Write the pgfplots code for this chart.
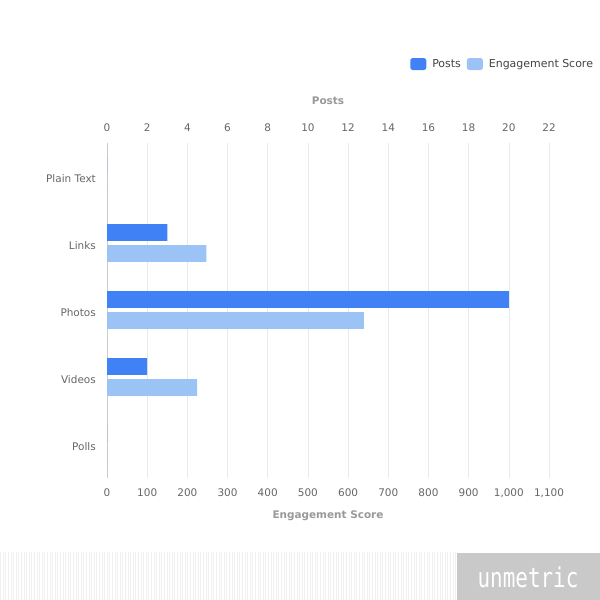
\documentclass[border=0pt]{standalone}
\usepackage{pgfplots}
\pgfplotsset{compat=1.18}
\usepackage{fontspec}
\setmainfont{DejaVu Sans}
\newfontfamily\logofont{DejaVu Sans Mono}
\definecolor{postsc}{HTML}{4181F6}
\definecolor{engc}{HTML}{9CC3F6}
\definecolor{tickc}{HTML}{666666}
\definecolor{titlec}{HTML}{999999}
\definecolor{gridc}{HTML}{E9E9E9}
\definecolor{axisc}{HTML}{CCCCCC}
\definecolor{legc}{HTML}{444444}
\begin{document}
\begin{tikzpicture}
\path[use as bounding box] (0bp,0bp) rectangle (600bp,-600bp);
\fill[white] (0bp,0bp) rectangle (600bp,-600bp);
% footer
\foreach \i in {0,...,175} {
  \draw[color=gridc!70, line width=0.7bp] ({\i*2.6bp+0.5bp},-552bp) -- ({\i*2.6bp+0.5bp},-600bp);
}
\fill[color=black!21] (456.5bp,-552.5bp) rectangle (600bp,-600bp);
\node[text=white, font=\logofont\fontsize{21}{21}\selectfont, yscale=1.3, anchor=center] at (528bp,-577bp) {unmetric};
% engagement axis (bottom)
\begin{axis}[
  at={(107bp,-477.5bp)}, anchor=south west,
  scale only axis, width=442bp, height=335bp,
  xmin=0, xmax=1100, ymin=-0.5, ymax=4.5, y dir=reverse,
  xbar, bar width=16.7bp, bar shift=0pt,
  axis x line*=bottom, axis y line*=left,
  x axis line style={draw=none},
  y axis line style={draw=axisc, line width=0.8bp},
  xtick={0,100,...,1100},
  ytick={0,1,2,3,4},
  yticklabels={Plain Text, Links, Photos, Videos, Polls},
  major tick length=0pt,
  xmajorgrids, grid style={draw=gridc, line width=0.6bp},
  scaled x ticks=false,
  /pgf/number format/assume math mode=true,
  xticklabel style={/pgf/number format/1000 sep={,}, anchor=base, yshift=-18.5bp, inner sep=0pt, text=tickc, font=\fontsize{10.5}{12}\selectfont},
  yticklabel style={anchor=east, xshift=-11bp, yshift=-2.5bp, inner sep=0pt, text=tickc, font=\fontsize{10.5}{12}\selectfont},
  xlabel={Engagement Score},
  xlabel style={at={(axis description cs:0.5,0)}, anchor=base, yshift=-40.5bp, inner sep=0pt, text=titlec, font=\bfseries\fontsize{10.5}{12}\selectfont},
  legend columns=-1,
  legend style={at={(axis description cs:1.0995,1.2343)}, anchor=east, draw=none, fill=none, inner sep=0pt, outer sep=0pt,
    nodes={inner sep=0pt, text=legc, font=\fontsize{11}{13}\selectfont},
    /tikz/every even column/.append style={column sep=6bp},
    /tikz/every odd column/.append style={column sep=6bp}},
  legend image code/.code={\fill[#1, rounded corners=2.5bp] (0bp,-6bp) rectangle (16bp,6bp);},
]
\addlegendimage{fill=postsc, draw=none}
\addlegendentry{Posts}
\addplot[fill=engc, draw=none] coordinates {(0,0.157) (247,1.157) (639,2.157) (224,3.157) (0,4.157)};
\addlegendentry{Engagement Score}
\end{axis}
% posts axis (top)
\begin{axis}[
  at={(107bp,-477.5bp)}, anchor=south west,
  scale only axis, width=442bp, height=335bp,
  xmin=0, xmax=22, ymin=-0.5, ymax=4.5, y dir=reverse,
  xbar, bar width=16.7bp, bar shift=0pt,
  axis x line*=top, axis y line=none,
  x axis line style={draw=none},
  xtick={0,2,...,22}, ytick=\empty,
  major tick length=0pt,
  /pgf/number format/assume math mode=true,
  xticklabel style={anchor=base, yshift=10.7bp, inner sep=0pt, text=tickc, font=\fontsize{10.5}{12}\selectfont},
  xlabel={Posts},
  xlabel style={at={(axis description cs:0.5,1)}, anchor=base, yshift=38.5bp, inner sep=0pt, text=titlec, font=\bfseries\fontsize{10.5}{12}\selectfont},
]
\addplot[fill=postsc, draw=none] coordinates {(0,-0.157) (3,0.843) (20,1.843) (2,2.843) (0,3.843)};
\end{axis}
\end{tikzpicture}
\end{document}
